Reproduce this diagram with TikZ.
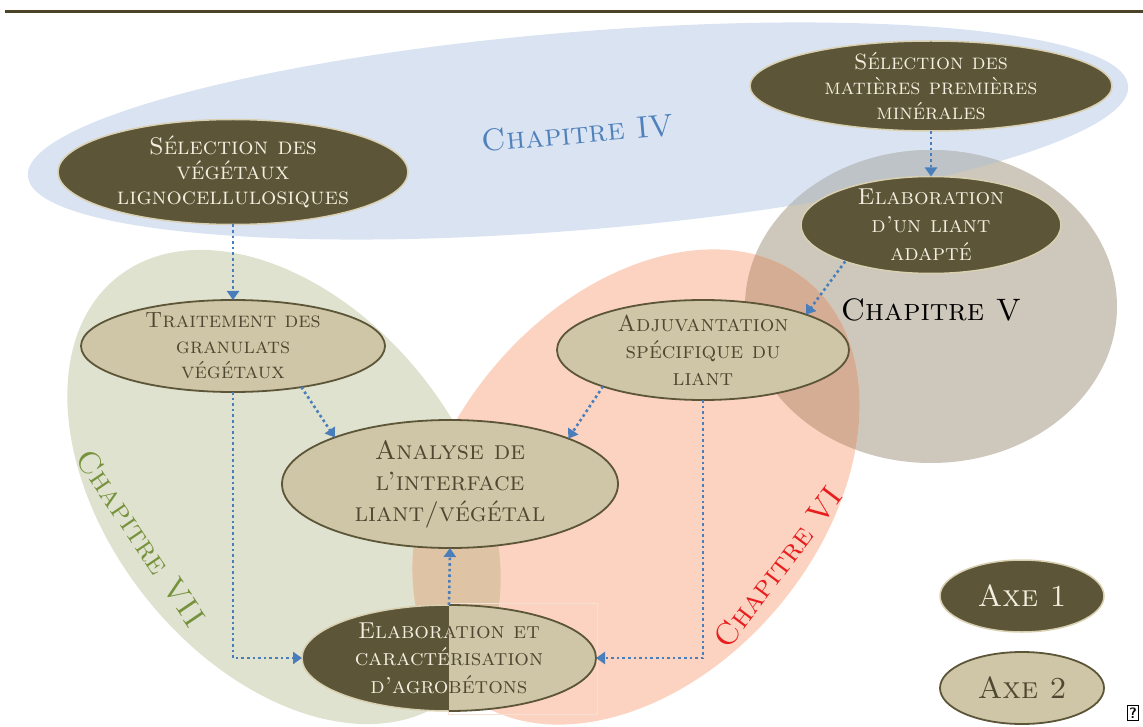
\documentclass[tikz,border=0pt]{standalone}
\usepackage{fontspec}
\usetikzlibrary{shapes.geometric,arrows.meta}
\definecolor{bgBlue}{HTML}{DAE3F1}
\definecolor{bgGreen}{HTML}{DFE2CF}
\definecolor{bgRed}{HTML}{FCD3C1}
\definecolor{bgGrey}{HTML}{CEC7BB}
\definecolor{ovRG}{HTML}{D5AD94}
\definecolor{ovGR}{HTML}{DEC3A4}
\definecolor{ovBG}{HTML}{BEC3C7}
\definecolor{dk}{HTML}{5C5538}
\definecolor{ltTxt}{HTML}{F3EEDF}
\definecolor{tanF}{HTML}{CEC6A6}
\definecolor{tanLine}{HTML}{D8D0B0}
\definecolor{dkTxt}{HTML}{4E4731}
\definecolor{arrBlue}{HTML}{4A7EBB}
\definecolor{chBlue}{HTML}{4F81BD}
\definecolor{chGreen}{HTML}{76923C}
\definecolor{chRed}{HTML}{E81D1D}
\definecolor{topLine}{HTML}{4B4429}
\definecolor{faint}{HTML}{F6E0D4}
\tikzset{
  axeone/.style={ellipse, fill=dk, draw=tanLine, line width=1.5pt, text=ltTxt,
    inner sep=-14pt, outer sep=0pt, align=center},
  axetwo/.style={ellipse, fill=tanF, draw=dk, line width=1.8pt, text=dkTxt,
    inner sep=-14pt, outer sep=0pt, align=center},
  arr/.style={draw=arrBlue, line width=2.6pt, dash pattern=on 2.6pt off 3pt,
    -{Triangle[width=12pt,length=9pt]}},
  chap/.style={font=\fontsize{31}{36}\selectfont\scshape, inner sep=0pt},
  fs/.style 2 args={font=\fontsize{#1}{#2}\selectfont\scshape},
}
\begin{document}
\begin{tikzpicture}[x=1pt,y=1pt]
\useasboundingbox (0,0) rectangle (1143,-727);
% top rule
\draw[topLine, line width=3pt] (5,-12) -- (1143,-12);
% chapter regions
\fill[bgBlue, rotate around={4.7:(578,-131)}] (578,-131) ellipse [x radius=552, y radius=99];
\fill[bgGrey] (931,-306.5) ellipse [x radius=186, y radius=156.5];
\fill[bgGreen, rotate around={-51.6:(284,-487)}] (284,-487) ellipse [x radius=268, y radius=177];
\fill[bgRed, rotate around={50:(636,-487)}] (636,-487) ellipse [x radius=268, y radius=186];
% overlaps
\begin{scope}
  \clip[rotate around={4.7:(578,-131)}] (578,-131) ellipse [x radius=552, y radius=99];
  \fill[ovBG] (931,-306.5) ellipse [x radius=186, y radius=156.5];
\end{scope}
\begin{scope}
  \clip[rotate around={50:(636,-487)}] (636,-487) ellipse [x radius=268, y radius=186];
  \fill[ovRG] (931,-306.5) ellipse [x radius=186, y radius=156.5];
\end{scope}
\begin{scope}
  \clip[rotate around={50:(636,-487)}] (636,-487) ellipse [x radius=268, y radius=186];
  \fill[ovGR, rotate around={-51.6:(284,-487)}] (284,-487) ellipse [x radius=268, y radius=177];
\end{scope}
% chapter labels
\node[chap, text=chBlue, rotate=5] (c4) at (578,-133) {Chapitre IV};
\node[chap, text=black] (c5) at (931,-310) {Chapitre V};
\node[chap, text=chRed, rotate=53] (c6) at (778,-567) {Chapitre VI};
\node[chap, text=chGreen, rotate=-56] (c7) at (141,-538) {Chapitre VII};
% faint frame
\draw[faint, line width=0.8pt] (448,-603) rectangle (597,-714);
% nodes
\node[axeone, fs={24}{25}, minimum width=350, minimum height=105] (n1) at (233,-172)
  {Sélection des\\végétaux\\lignocellulosiques};
\node[axeone, fs={22}{25}, minimum width=362, minimum height=90] (n2) at (931,-86)
  {Sélection des\\matières premières\\minérales};
\node[axeone, fs={23}{28}, minimum width=260, minimum height=97] (n3) at (931,-225)
  {Elaboration\\d’un liant\\adapté};
\node[axetwo, fs={22}{25.5}, minimum width=304, minimum height=92] (n4) at (233,-346)
  {Traitement des\\granulats\\végétaux};
\node[axetwo, fs={23}{27}, minimum width=292, minimum height=100] (n5) at (703,-350)
  {Adjuvantation\\spécifique du\\liant};
\node[axetwo, fs={26.5}{31}, minimum width=336, minimum height=128] (n6) at (450,-484)
  {Analyse de\\l’interface\\liant/végétal};
\begin{scope}
  \clip (250,-590) rectangle (449,-730);
  \node[axeone, fs={23}{27.5}, minimum width=294, minimum height=106] (n7a) at (449,-658)
    {Elaboration et\\caractérisation\\d’agrobétons};
\end{scope}
\begin{scope}
  \clip (449,-590) rectangle (650,-730);
  \node[axetwo, fs={23}{27.5}, minimum width=294, minimum height=106] (n7b) at (449,-658)
    {Elaboration et\\caractérisation\\d’agrobétons};
\end{scope}
% legend
\node[axeone, font=\fontsize{30.5}{34}\selectfont\scshape, inner sep=-4pt, minimum width=164, minimum height=72] (l1) at (1022,-596) {Axe 1};
\node[axetwo, font=\fontsize{30.5}{34}\selectfont\scshape, inner sep=-4pt, minimum width=164, minimum height=72] (l2) at (1022,-688) {Axe 2};
\node[draw=black, line width=1.2pt, inner sep=0pt, minimum width=11, minimum height=15,
  font=\sffamily\bfseries\fontsize{15}{15}\selectfont] (q) at (1133,-713) {?};
% connectors
\draw[arr] (n1.south) -- (n4.north);
\draw[arr] (n2.south) -- (n3.north);
\draw[arr] (n3.203) -- (n5.19);
\draw[arr] (n4.329) -- (n6.158);
\draw[arr] (n5.200) -- (n6.21);
\draw[arr] (n4.south) -- (n4.south |- n7a.west) -- (n7a.west);
\draw[arr] (n5.south) -- (n5.south |- n7b.east) -- (n7b.east);
\draw[arr] (n7a.north) -- (n6.south);
\end{tikzpicture}
\end{document}
